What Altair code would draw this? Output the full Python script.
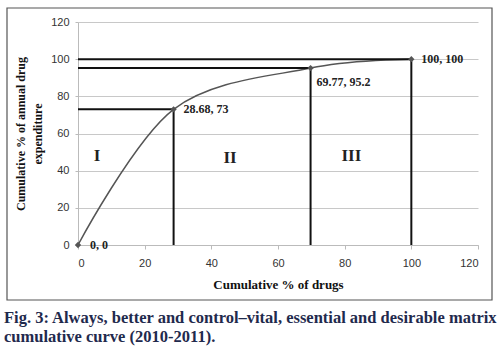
import altair as alt
import pandas as pd

xs = [0, 28.68, 69.77, 100]
ys = [0, 73, 95.2, 100]
pt_labels = ["0, 0", "28.68, 73", "69.77, 95.2", "100, 100"]
lab_dx = [12, 10, 6, 10]
lab_dy = [0, 0, 14, 0]
zones = ["I", "II", "III"]
zone_x = [5.7, 45.6, 82]
zone_y = [48, 47, 48]
x_ticks = [0, 20, 40, 60, 80, 100, 120]
y_ticks = [0, 20, 40, 60, 80, 100, 120]
caption = ["Fig. 3: Always, better and control\u2013vital, essential and desirable matrix",
           "cumulative curve (2010-2011)."]

pts = pd.DataFrame({"x": xs, "y": ys, "label": pt_labels, "idx": list(range(len(xs))),
                    "x0": [0]*4, "y0": [0]*4})
zdf = pd.DataFrame({"x": zone_x, "y": zone_y, "t": zones})
cap = pd.DataFrame({"t": caption, "row": [0, 1]})

W, H = 400, 223
serif = "Liberation Serif"

xs_scale = alt.Scale(domain=[0, 120], nice=False)
ys_scale = alt.Scale(domain=[0, 120], nice=False)

x_axis = alt.Axis(values=x_ticks, title="Cumulative % of drugs", grid=False,
                  domainColor="#bbbbbb", tickColor="#bbbbbb", tickSize=4,
                  labelFont="Liberation Sans", labelFontSize=11, labelColor="#333333",
                  labelPadding=8, labelOverlap=False,
                  titleFont=serif, titleFontSize=13, titleFontWeight="bold", titlePadding=10,
                  titleColor="#111111")
y_axis = alt.Axis(values=y_ticks, title=["Cumulative % of annual drug", "expenditure"],
                  grid=True, gridColor="#c8c8c8", domainColor="#bbbbbb", tickColor="#bbbbbb",
                  tickSize=3, labelFont="Liberation Sans", labelFontSize=11,
                  labelColor="#333333", labelPadding=6, labelOverlap=False,
                  titleFont=serif, titleFontSize=12, titleFontWeight="bold", titlePadding=6,
                  titleColor="#111111", titleLineHeight=17)

X = alt.X("x:Q", scale=xs_scale, axis=x_axis)
Y = alt.Y("y:Q", scale=ys_scale, axis=y_axis)

base = alt.Chart(pts)

border = alt.Chart(pd.DataFrame({"a": [0]})).mark_rect(fill=None, stroke="#555555", strokeWidth=1.2).encode(
    x=alt.value(-71), x2=alt.value(414), y=alt.value(-14), y2=alt.value(278)
)

line = base.mark_line(interpolate="cardinal", color="#555555", strokeWidth=1.5).encode(x=X, y=Y)

hrules = base.transform_filter("datum.x > 0").mark_rule(color="#111111", strokeWidth=2).encode(
    x=alt.X("x0:Q", scale=xs_scale, axis=x_axis), x2="x:Q", y=Y
)
vrules = base.transform_filter("datum.x > 0").mark_rule(color="#111111", strokeWidth=2).encode(
    x=X, y=alt.Y("y0:Q", scale=ys_scale, axis=y_axis), y2="y:Q"
)

points = base.mark_point(shape="diamond", filled=True, color="#555555", size=40, opacity=1).encode(
    x=X, y=Y
)

label_layers = []
for i in range(len(xs)):
    label_layers.append(
        base.transform_filter(f"datum.idx == {i}").mark_text(
            align="left", baseline="middle", font=serif, fontSize=12, fontWeight="bold",
            color="#222222", dx=lab_dx[i], dy=lab_dy[i]).encode(x=X, y=Y, text="label:N")
    )

zone_text = alt.Chart(zdf).mark_text(font=serif, fontSize=17, fontWeight="bold", color="#222222").encode(
    x=X, y=Y, text="t:N"
)

cap_layers = []
for i, yv in enumerate([296, 315]):
    cap_layers.append(
        alt.Chart(cap).transform_filter(f"datum.row == {i}").mark_text(
            align="left", baseline="middle", font=serif, fontSize=16.5,
            fontWeight="bold", color="#1f2a4d").encode(
            x=alt.value(-74), y=alt.value(yv), text="t:N")
    )

chart = alt.layer(border, line, hrules, vrules, points, *label_layers, zone_text, *cap_layers).properties(
    width=W, height=H,
    autosize=alt.AutoSizeParams(type="none"),
    padding={"left": 78, "top": 22, "right": 22, "bottom": 107},
    background="white"
).configure_view(stroke=None)

chart.save("out.html", embed_options={"renderer": "svg", "actions": False})
